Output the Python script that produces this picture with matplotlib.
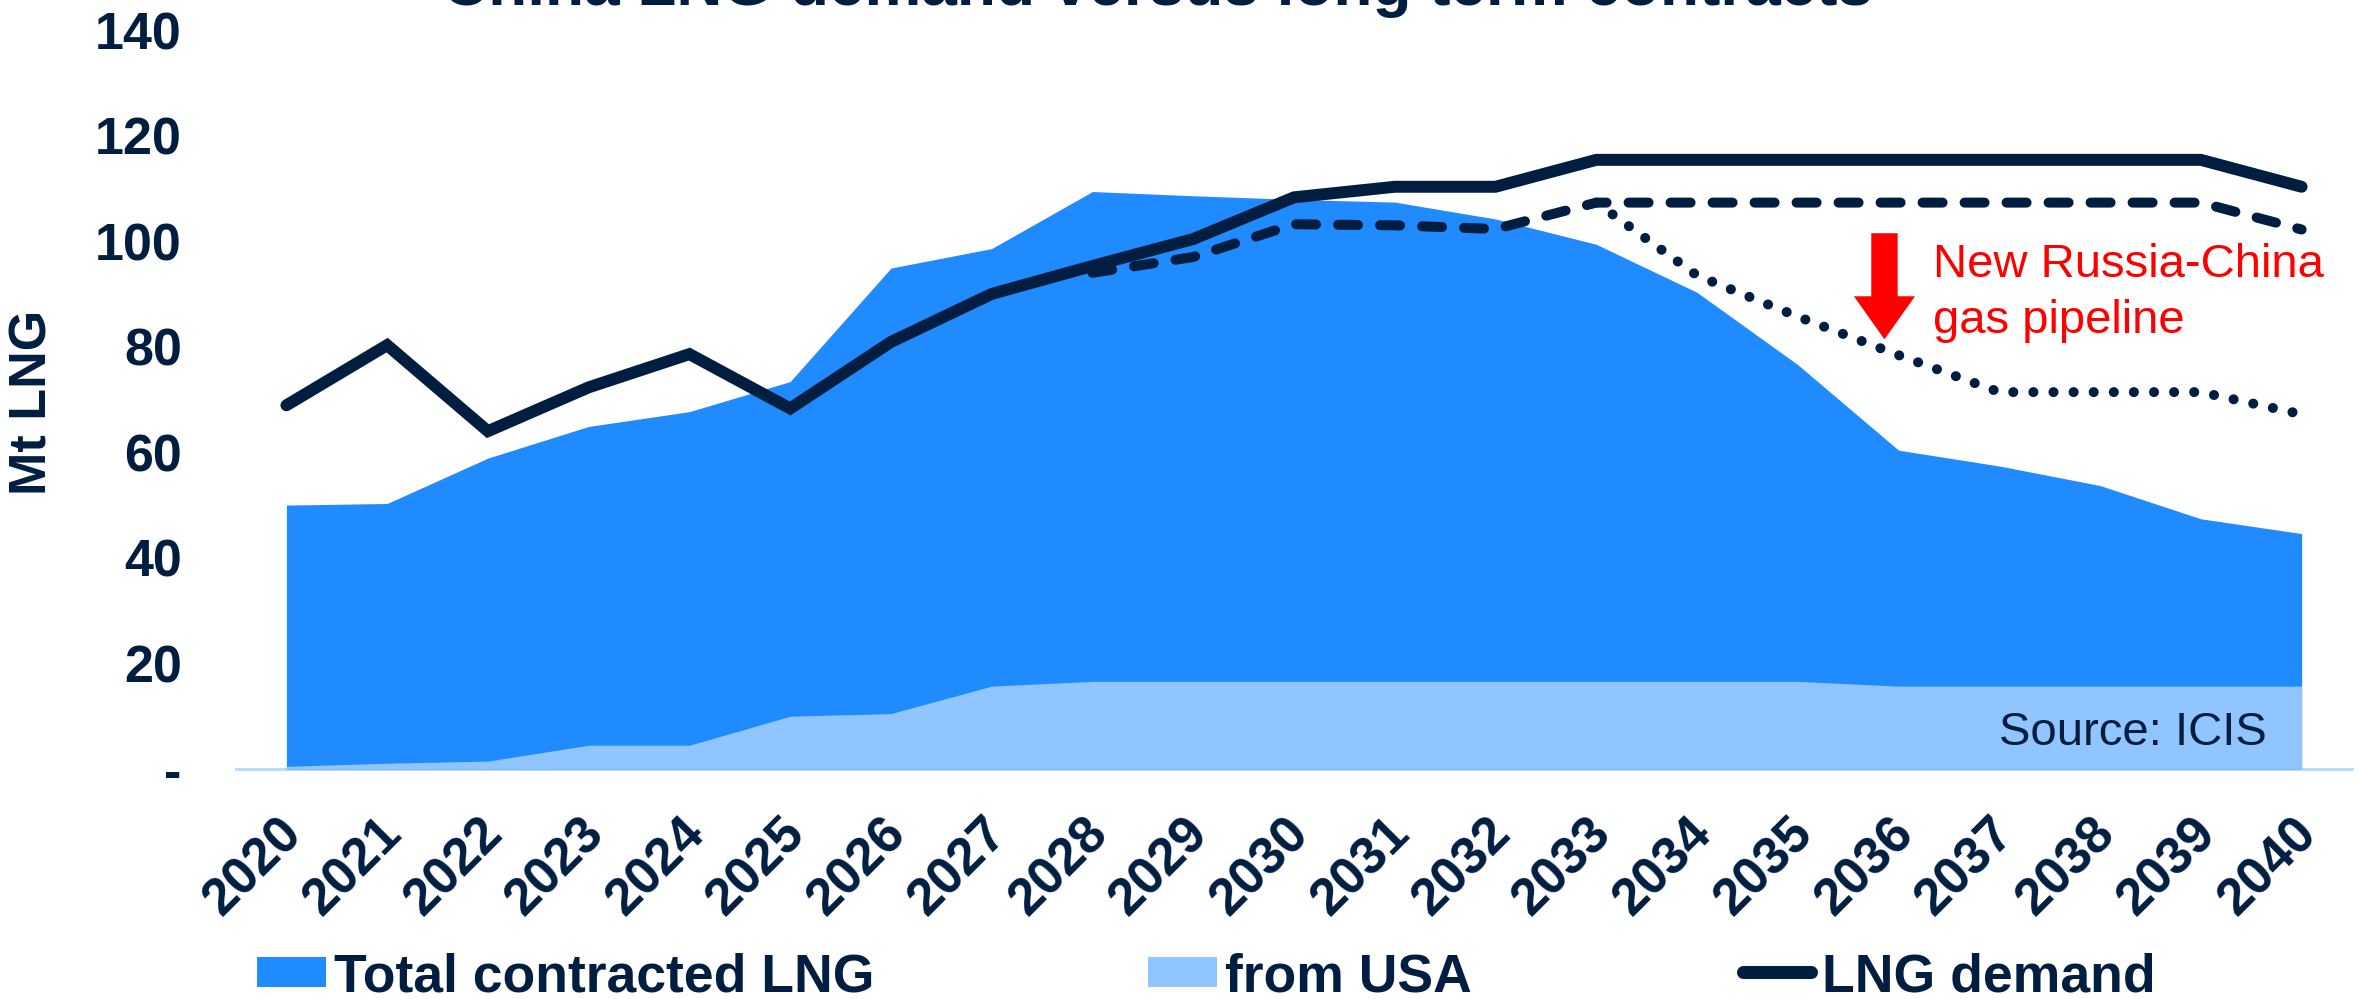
import numpy as np
import matplotlib
matplotlib.use('Agg')
import matplotlib.pyplot as plt
from matplotlib.transforms import ScaledTranslation
from matplotlib.patches import Patch
from matplotlib.lines import Line2D

plt.rcParams['font.family'] = ['Liberation Sans', 'DejaVu Sans']

navy = '#011e41'
blue = '#1f8bff'
light = '#91c5ff'

years = list(range(2020, 2041))
total_contracted = [50.0, 50.3, 58.9, 64.9, 67.7, 73.4, 94.9, 98.6, 109.4, 108.6, 107.9,
                    107.4, 104.2, 99.4, 90.3, 76.6, 60.4, 57.4, 53.7, 47.4, 44.6]
from_usa = [0.5, 1.1, 1.5, 4.5, 4.5, 10.0, 10.5, 15.7, 16.6, 16.6, 16.6,
            16.6, 16.6, 16.6, 16.6, 16.6, 15.7, 15.7, 15.7, 15.7, 15.7]
lng_demand = [68.9, 80.3, 64.0, 72.3, 78.6, 68.3, 80.9, 90.0, 95.3, 100.4, 108.3,
              110.3, 110.3, 115.4, 115.4, 115.4, 115.4, 115.4, 115.4, 115.4, 110.3]
# alternative demand paths
dash_years = list(range(2028, 2041))
dash_demand = [94.0, 97.0, 103.2, 103.0, 102.3, 107.3, 107.3, 107.3, 107.3, 107.3,
               107.3, 107.3, 102.2]
dot_years = list(range(2033, 2041))
dot_demand = [107.3, 93.5, 85.7, 78.4, 71.4, 71.4, 71.4, 67.2]

x = np.arange(len(years))
xd = np.array([years.index(y) for y in dash_years])
xp = np.array([years.index(y) for y in dot_years])

fig = plt.figure(figsize=(23.61, 9.99), dpi=100)
ax = fig.add_axes([236/2361, 1-769/999, 2116/2361, 739/999])

ax.fill_between(x, 0, total_contracted, color=blue, lw=0, zorder=1)
ax.fill_between(x, 0, from_usa, color=light, lw=0, zorder=2)

ax.plot(xd, dash_demand, color=navy, lw=7.2, dashes=(2.0, 2.2),
        dash_capstyle='round', zorder=3)
ax.plot(xp, dot_demand, color=navy, lw=7.2, dashes=(0.01, 2.0),
        dash_capstyle='round', zorder=3)
ax.plot(x, lng_demand, color=navy, lw=8.6, solid_capstyle='round',
        solid_joinstyle='miter', zorder=4)

ax.set_xlim(-0.5, 20.5)
ax.set_ylim(0, 140)
ax.set_yticks(np.arange(0, 141, 20))
ax.set_yticklabels(['-'] + [str(v) for v in range(20, 141, 20)])
ax.set_xticks(x)
ax.set_xticklabels([str(y) for y in years], rotation=45, rotation_mode='anchor',
                   ha='right', va='top')
ax.tick_params(axis='both', length=0, labelsize=37.5, labelcolor=navy)
ax.tick_params(axis='y', pad=39)
ax.tick_params(axis='x', pad=29)
for lab in ax.get_xticklabels() + ax.get_yticklabels():
    lab.set_fontweight('bold')
off = ScaledTranslation(-0.10, 0, fig.dpi_scale_trans)
for lab in ax.get_xticklabels():
    lab.set_transform(lab.get_transform() + off)

for s in ['left', 'top', 'right']:
    ax.spines[s].set_visible(False)
ax.spines['bottom'].set_color('#b9dbfd')
ax.spines['bottom'].set_linewidth(2.2)
ax.spines['bottom'].set_zorder(0)

fig.text(33/2361, 1-402/999, 'Mt LNG', rotation=90, ha='center', va='center',
         fontsize=37.5, fontweight='bold', color=navy)
fig.text(1158/2361, 1-5/999, 'China LNG demand versus long term contracts',
         ha='center', va='baseline', fontsize=46, fontweight='bold', color=navy)

# pipeline annotation
ax.annotate('', xy=(15.86, 81.4), xytext=(15.86, 101.5),
            arrowprops=dict(arrowstyle='simple,head_length=31,head_width=44,tail_width=19',
                            mutation_scale=1, color='#ff0000', lw=0,
                            shrinkA=0, shrinkB=0), zorder=5)
ax.text(16.34, 93.2, 'New Russia-China', color='#ff0000', fontsize=34,
        ha='left', va='baseline', zorder=5)
ax.text(16.34, 82.6, 'gas pipeline', color='#ff0000', fontsize=34,
        ha='left', va='baseline', zorder=5)
ax.text(19.65, 4.5, 'Source: ICIS', color=navy, fontsize=34,
        ha='right', va='baseline', zorder=5)

# legend, three separate entries
entries = [
    (Patch(facecolor=blue, lw=0), 'Total contracted LNG', 257, 1.29, 0.51, 0.15),
    (Patch(facecolor=light, lw=0), 'from USA', 1148, 1.29, 0.51, 0.15),
    (Line2D([], [], color=navy, lw=9.4, solid_capstyle='round'), 'LNG demand', 1743, 1.27, 0.7, 0.2),
]
for h, lab, xp0, hl, hh, tp in entries:
    leg = fig.legend([h], [lab], loc='center left', bbox_to_anchor=(xp0/2361, 1-977/999),
                     frameon=False, borderpad=0, borderaxespad=0, handlelength=hl,
                     handleheight=hh, handletextpad=tp,
                     prop={'size': 38.5, 'weight': 'bold'})
    for t in leg.get_texts():
        t.set_color(navy)

fig.savefig('out.png', dpi=100)
